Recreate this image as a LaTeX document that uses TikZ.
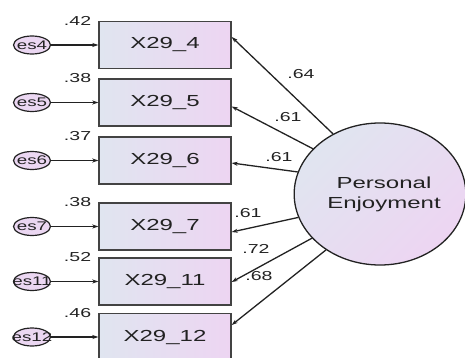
\documentclass[tikz,border=0pt]{standalone}
\usepackage{fontspec}
\setmainfont{Liberation Sans}
\newfontfamily\widesans[FakeStretch=1.5]{Liberation Sans}
\usetikzlibrary{shapes.geometric,arrows.meta}

\definecolor{lineink}{HTML}{222222}
\definecolor{fillblue}{RGB}{224,229,240}
\definecolor{fillpink}{RGB}{237,213,242}

\tikzset{
  obs/.style={draw=lineink!85, line width=1.4pt, minimum width=132pt,
    minimum height=47pt, inner sep=0pt, left color=fillblue, right color=fillpink,
    font=\widesans\fontsize{16}{16}\selectfont, text=lineink},
  err/.style={ellipse, draw=lineink, line width=1.2pt, minimum width=37pt,
    minimum height=18pt, inner sep=0pt, fill=fillpink!85!fillblue,
    font=\widesans\fontsize{12.5}{12.5}\selectfont, text=lineink},
  lat/.style={ellipse, draw=lineink, line width=1.3pt, minimum width=166pt,
    minimum height=142pt, inner sep=0pt, top color=fillblue, bottom color=fillpink,
    shading angle=45, align=center, text=lineink,
    font=\widesans\fontsize{16}{20}\selectfont},
  path/.style={-{Stealth[length=6pt,width=4pt]}, line width=1.3pt, draw=lineink},
  coef/.style={font=\widesans\fontsize{13}{13}\selectfont, inner sep=0pt, text=lineink}
}

\begin{document}
\begin{tikzpicture}[x=1pt,y=-1pt]
  \useasboundingbox (0,0) rectangle (465,358);
  \clip (0,0) rectangle (465,358);

  % observed indicators
  \node[obs] (b4)  at (165,45)    {X29\_4};
  \node[obs] (b5)  at (165,102.5) {X29\_5};
  \node[obs] (b6)  at (165,160.5) {X29\_6};
  \node[obs] (b7)  at (165,226.5) {X29\_7};
  \node[obs] (b11) at (165,281.5) {X29\_11};
  \node[obs] (b12) at (165,337)   {X29\_12};

  % error terms
  \node[err] (e4)  at (32,45)    {\makebox[0pt]{es4}};
  \node[err] (e5)  at (32,102.5) {\makebox[0pt]{es5}};
  \node[err] (e6)  at (32,160.5) {\makebox[0pt]{es6}};
  \node[err] (e7)  at (32,226.5) {\makebox[0pt]{es7}};
  \node[err] (e11) at (32,281.5) {\makebox[0pt]{es11}};
  \node[err] (e12) at (32,337)   {\makebox[0pt]{es12}};

  \foreach \i in {4,5,6,7,11,12}
    \draw[path] (e\i) -- (b\i);

  % squared multiple correlations
  \node[coef, anchor=east] (r4)  at ([xshift=-7pt]b4.north west)  {.42};
  \node[coef, anchor=east] (r5)  at ([xshift=-7pt]b5.north west)  {.38};
  \node[coef, anchor=east] (r6)  at ([xshift=-7pt]b6.north west)  {.37};
  \node[coef, anchor=east] (r7)  at ([xshift=-7pt]b7.north west)  {.38};
  \node[coef, anchor=east] (r11) at ([xshift=-7pt]b11.north west) {.52};
  \node[coef, anchor=east] (r12) at ([xshift=-7pt]b12.north west) {.46};

  % latent factor, its caption set a little right of centre
  \node[lat] (pe) at (380,194) {\hspace*{8pt}Personal\\\hspace*{8pt}Enjoyment};

  % factor loadings
  \draw[path] (pe.128) -- ([yshift=8pt]b4.east);
  \draw[path] (pe.146) -- ([yshift=-4pt]b5.east);
  \draw[path] (pe.165) -- ([yshift=-2.5pt]b6.east);
  \draw[path] (pe.196) -- ([yshift=-5.5pt]b7.east);
  \draw[path] (pe.213) -- ([yshift=-0.5pt]b11.east);
  \draw[path] (pe.226) -- ([yshift=12pt]b12.east);

  \node[coef] (l4)  at (301,74)  {.64};
  \node[coef] (l5)  at (288,117) {.61};
  \node[coef] (l6)  at (279,157) {.61};
  \node[coef] (l7)  at (248,213) {.61};
  \node[coef] (l11) at (256,249) {.72};
  \node[coef] (l12) at (259,276) {.68};
\end{tikzpicture}
\end{document}
